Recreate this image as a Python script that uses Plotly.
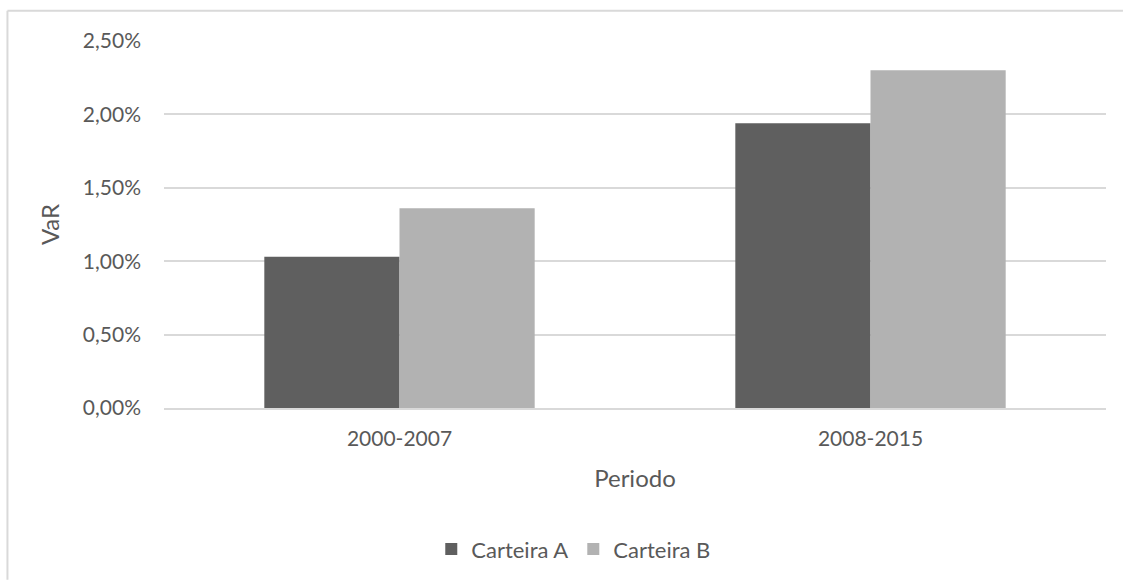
import plotly.graph_objects as go

# Value at Risk per portfolio, by period
periods = ["2000-2007", "2008-2015"]
carteira_a = [0.0103, 0.0194]
carteira_b = [0.0136, 0.0230]
y_ticks = [0.0, 0.005, 0.010, 0.015, 0.020, 0.025]

text_color = "#595959"
grid_color = "#d9d9d9"
font_family = "Lato"

fig = go.Figure()
fig.add_trace(go.Bar(name="Carteira A", x=periods, y=carteira_a,
                     marker=dict(color="#5f5f5f", line=dict(width=0))))
fig.add_trace(go.Bar(name="Carteira B", x=periods, y=carteira_b,
                     marker=dict(color="#b2b2b2", line=dict(width=0))))

# chart-area frame: top and left edges, kept inside the figure
frame_left, frame_top = -0.1662, 1.0825
frame_right, frame_bottom = 1.018, -0.468
frame = [
    dict(type="line", xref="paper", yref="paper",
         x0=frame_left, x1=frame_right, y0=frame_top, y1=frame_top,
         line=dict(color=grid_color, width=2), layer="below"),
    dict(type="line", xref="paper", yref="paper",
         x0=frame_left, x1=frame_left, y0=frame_bottom, y1=frame_top,
         line=dict(color=grid_color, width=2), layer="below"),
]

fig.update_layout(
    width=1123, height=580,
    margin=dict(l=164, r=17, t=41, b=172, autoexpand=False),
    paper_bgcolor="white", plot_bgcolor="white",
    separators=",.",
    barmode="group", bargap=0.426, bargroupgap=0,
    font=dict(family=font_family, size=21, color=text_color),
    showlegend=True,
    legend=dict(orientation="h", x=0.435, xanchor="center",
                y=-0.385, yanchor="middle",
                font=dict(size=22, color=text_color),
                itemsizing="constant", traceorder="normal"),
    xaxis=dict(
        showgrid=False, showline=True, linecolor=grid_color, linewidth=1.5,
        ticks="", ticklabelstandoff=11,
        tickfont=dict(size=21, color=text_color),
        title=dict(text="Periodo", font=dict(size=24, color=text_color), standoff=21),
    ),
    yaxis=dict(
        range=[0, 0.025], tickvals=y_ticks, tickformat=".2%",
        showgrid=True, gridcolor=grid_color, gridwidth=1.5,
        zeroline=False, showline=False, ticks="", ticklabelstandoff=22,
        tickfont=dict(size=21, color=text_color),
        title=dict(text="VaR", font=dict(size=24, color=text_color), standoff=16),
    ),
    shapes=frame,
)

fig.write_html("out.html")
